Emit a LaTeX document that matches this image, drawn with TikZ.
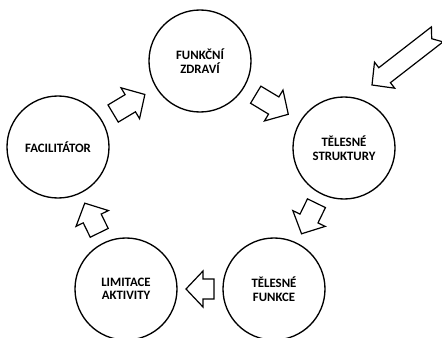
\documentclass[tikz,border=0pt]{standalone}
\usepackage{fontspec}
\setmainfont{Carlito}
\usepackage{tikz}
\usetikzlibrary{calc}

\tikzset{
  circ/.style={circle, draw, line width=1pt, minimum size=76.5pt, inner sep=0pt, align=center, font=\fontsize{9.6}{10.2}\selectfont\bfseries},
  blkline/.style={line width=0.9pt, fill=white, line join=miter},
  blkarrow/.pic={
    \draw [blkline] (-#1,-10) -- ({#1-17},-10) -- ({#1-17},-18) -- (#1,0) -- ({#1-17},18) -- ({#1-17},10) -- (-#1,10) -- cycle ;
  }
}

\begin{document}
\begin{tikzpicture}[x=0.75pt,y=0.75pt,yscale=-1,xscale=1]
\useasboundingbox (0,0) rectangle (442,338);
\clip (0,0) rectangle (442,338);

%Shape: Circle
\node [circ] (fz) at (200,61) {FUNKČNÍ\\ZDRAVÍ};
%Shape: Circle
\node [circ] (ts) at (344,148) {TĚLESNÉ\\STRUKTURY};
%Shape: Circle
\node [circ] (tf) at (274,289) {TĚLESNÉ\\FUNKCE};
%Shape: Circle
\node [circ] (la) at (126,289) {LIMITACE\\AKTIVITY};
%Shape: Circle
\node [circ] (fac) at (58,147) {FACILITÁTOR};

%Right Arrow
\pic [rotate=31] (a1) at ($(fac)!0.5!(fz)$) {blkarrow=18.5};
%Right Arrow
\pic [rotate=-31] (a2) at ($(fz)!0.5!(ts)$) {blkarrow=19};
%Right Arrow
\pic [rotate=-116] (a3) at ($(ts)!0.5!(tf)$) {blkarrow=17};
%Right Arrow
\pic [rotate=180] (a4) at ($(tf)!0.5!(la)$) {blkarrow=14};
%Right Arrow
\pic [rotate=116] (a5) at ($(la)!0.5!(fac)$) {blkarrow=16.5};

%Notched Right Arrow
\draw [blkline] (372,85) -- (394.7,88.2) -- (390.4,82.7) -- (443,41.9) -- (431.7,38.7) -- (431.4,26.9) -- (378.8,67.7) -- (374.5,62.2) -- cycle ;

\end{tikzpicture}
\end{document}
